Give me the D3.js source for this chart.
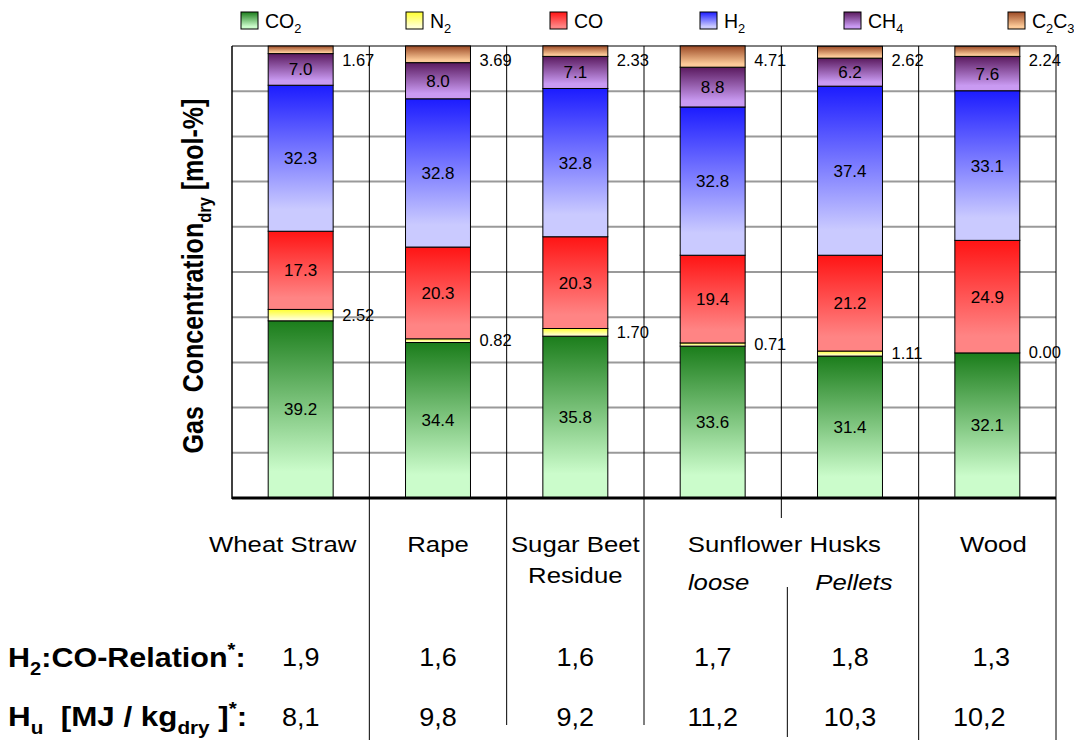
<!DOCTYPE html>
<html><head><meta charset="utf-8">
<script src="https://cdn.jsdelivr.net/npm/d3@7"></script>
<style>
body{margin:0;background:#fff}
svg{display:block}
text{font-family:"Liberation Sans",Arial,Helvetica,sans-serif;white-space:pre}
</style>
</head><body>
<svg id="chart" width="1074" height="740"></svg>
<script>
// ---------- data ----------
const categories = ["Wheat Straw","Rape","Sugar Beet Residue","Sunflower Husks loose","Sunflower Husks Pellets","Wood"];
const seriesKeys = ["CO2","N2","CO","H2","CH4","C2C3"];
const co2  = [39.2, 34.4, 35.8, 33.6, 31.4, 32.1];
const n2   = [2.52, 0.82, 1.70, 0.71, 1.11, 0.00];
const co   = [17.3, 20.3, 20.3, 19.4, 21.2, 24.9];
const h2   = [32.3, 32.8, 32.8, 32.8, 37.4, 33.1];
const ch4  = [7.0, 8.0, 7.1, 8.8, 6.2, 7.6];
const c2c3 = [1.67, 3.69, 2.33, 4.71, 2.62, 2.24];
const yTicks = [0,10,20,30,40,50,60,70,80,90,100];
const groupLines = [["Wheat Straw"],["Rape"],["Sugar Beet","Residue"],["Sunflower Husks"],["Wood"]];
const groupMembers = [[0],[1],[2],[3,4],[5]];
const subLabels = ["","","","loose","Pellets",""];
const h2coRelation = ["1,9","1,6","1,6","1,7","1,8","1,3"];
const heatingValue = ["8,1","9,8","9,2","11,2","10,3","10,2"];

// ---------- styles ----------
const colorStops = {
  CO2:  ["#1b7d1b","#cbfccb"],
  N2:   ["#ffff30","#ffffd0"],
  CO:   ["#ff1414","#ff8484"],
  H2:   ["#1c1cff","#cacaff"],
  CH4:  ["#5a1a5e","#c99af2"],
  C2C3: ["#9c4a26","#fcca98"]
};
const legendParts = {
  CO2:[["CO",""],["2","sub"]], N2:[["N",""],["2","sub"]], CO:[["CO",""]],
  H2:[["H",""],["2","sub"]], CH4:[["CH",""],["4","sub"]], C2C3:[["C",""],["2","sub"],["C",""],["3","sub"]]
};
const series = {CO2:co2, N2:n2, CO:co, H2:h2, CH4:ch4, C2C3:c2c3};

const svg = d3.select("#chart");
const M = {left:232, right:1056, top:46, bottom:498};

const rows = categories.map((c,i)=>{
  const r = {cat:c};
  seriesKeys.forEach(k=> r[k]=series[k][i]);
  return r;
});
const stacked = d3.stack().keys(seriesKeys)(rows);

const x = d3.scaleBand().domain(categories).range([M.left, M.right])
  .paddingInner(0.527).paddingOuter(0.2635);
const y = d3.scaleLinear().domain([0,100]).range([M.bottom, M.top]);
const bw = x.bandwidth();
const step = x.step();
const cx = c => x(c) + bw/2;
const boundary = i => x(categories[i]) + bw + (step-bw)/2;

// gradients
const defs = svg.append("defs");
seriesKeys.forEach(k=>{
  const g = defs.append("linearGradient").attr("id","g_"+k)
    .attr("x1",0).attr("y1",0).attr("x2",0).attr("y2",1);
  g.append("stop").attr("offset",0).attr("stop-color",colorStops[k][0]);
  g.append("stop").attr("offset",0.85).attr("stop-color",colorStops[k][1]);
  g.append("stop").attr("offset",1).attr("stop-color",colorStops[k][1]);
});

function rich(t, parts, fs){
  let shift = 0;
  parts.forEach(([s,k])=>{
    const sp = t.append("tspan").text(s);
    const target = k==="sub" ? fs*0.28 : k==="sup" ? -fs*0.38 : 0;
    if (target!==shift) sp.attr("dy", target-shift);
    shift = target;
    if (k) sp.attr("font-size", fs*0.66);
  });
  return t;
}
function label(g, px, py, opts){
  const fs = opts.size;
  const sx = opts.sx || 1, sy = opts.sy || 1;
  const t = g.append("text")
    .attr("transform", `translate(${px},${py})` + (opts.rot ? ` rotate(${opts.rot})` : "") + ` scale(${sx},${sy})`)
    .attr("font-size", fs)
    .attr("font-weight", opts.bold ? "bold" : "normal")
    .attr("font-style", opts.italic ? "italic" : "normal")
    .attr("text-anchor", opts.anchor || "start")
    .attr("fill", "#000");
  if (opts.parts) rich(t, opts.parts, fs); else t.text(opts.text);
  return t;
}

// grid
svg.append("g").selectAll("line").data(yTicks.filter(d=>d>0 && d<100)).join("line")
  .attr("x1",M.left).attr("x2",M.right).attr("y1",d=>y(d)).attr("y2",d=>y(d))
  .attr("stroke","#9a9a9a").attr("stroke-width",2);

// frame
svg.append("line").attr("x1",M.left).attr("x2",M.right).attr("y1",y(100)).attr("y2",y(100))
  .attr("stroke","#000").attr("stroke-width",1);
svg.append("line").attr("x1",M.left).attr("x2",M.left).attr("y1",y(100)).attr("y2",y(0)+1)
  .attr("stroke","#000").attr("stroke-width",1.5);

// table vertical lines
const vlines = [
  {i:0, y2:740}, {i:1, y2:725}, {i:2, y2:725}, {i:3, y2:518}, {i:4, y2:740}, {i:5, y2:740}
];
svg.append("g").selectAll("line").data(vlines).join("line")
  .attr("x1",d=>boundary(d.i)).attr("x2",d=>boundary(d.i))
  .attr("y1",y(100)).attr("y2",d=>d.y2)
  .attr("stroke","#000").attr("stroke-width",1);
svg.append("line").attr("x1",boundary(3)+6).attr("x2",boundary(3)+6)
  .attr("y1",587).attr("y2",737).attr("stroke","#000").attr("stroke-width",1);

// bars
const layers = svg.append("g").selectAll("g").data(stacked).join("g")
  .attr("fill",d=>`url(#g_${d.key})`);
layers.selectAll("rect").data(d=>d).join("rect")
  .attr("x",d=>x(d.data.cat)).attr("width",bw)
  .attr("y",d=>y(d[1])).attr("height",d=>Math.max(0,y(d[0])-y(d[1])))
  .attr("stroke","#000").attr("stroke-width",1);

// axis baseline
svg.append("line").attr("x1",M.left).attr("x2",M.right).attr("y1",y(0)).attr("y2",y(0))
  .attr("stroke","#000").attr("stroke-width",3);

// value labels
const labG = svg.append("g");
stacked.forEach(layer=>{
  layer.forEach(d=>{
    const k = layer.key, v = d.data[k];
    const mid = (y(d[0])+y(d[1]))/2;
    if (k==="N2" || k==="C2C3"){
      const yy = k==="C2C3" ? Math.max(mid, y(100)+14) : mid;
      label(labG, x(d.data.cat)+bw+9, yy+5.5, {size:16.5, text:v.toFixed(2)});
    } else {
      label(labG, cx(d.data.cat), mid+6, {size:17, text:v.toFixed(1), anchor:"middle"});
    }
  });
});

// legend
const legendX = [241,406,550,700,844,1008];
const lg = svg.append("g");
seriesKeys.forEach((k,i)=>{
  lg.append("rect").attr("x",legendX[i]).attr("y",12).attr("width",17).attr("height",17)
    .attr("fill",`url(#g_${k})`).attr("stroke","#000").attr("stroke-width",1);
  label(lg, legendX[i]+24, 27.5, {size:19.5, parts:legendParts[k]});
});

// y axis title
label(svg, 203, 276, {size:25, bold:true, rot:-90, sy:1.15, anchor:"middle",
  parts:[["Gas  Concentration",""],["dry","sub"],[" [mol-%]",""]]});

// category labels
const tg = svg.append("g");
groupLines.forEach((lines,gi)=>{
  const mem = groupMembers[gi].map(i=>categories[i]);
  let cxx = d3.mean(mem, c=>cx(c));
  if (gi===0) cxx -= 18;
  if (gi===3) cxx += 3;
  if (gi===4) cxx += 6;
  lines.forEach((ln,li)=>{
    label(tg, cxx, 552 + li*31, {size:23, sx:1.12, anchor:"middle", text:ln});
  });
});
subLabels.forEach((s,i)=>{
  if (!s) return;
  label(tg, cx(categories[i]) + (i===3 ? 6 : 4), 590, {size:23, sx:1.12, italic:true, anchor:"middle", text:s});
});

// table rows
label(tg, 8, 667, {size:28, bold:true, sx:1.09,
  parts:[["H",""],["2","sub"],[":CO-Relation",""],["*","sup"],[":",""]]});
label(tg, 8, 726, {size:28, bold:true, sx:1.12,
  parts:[["H",""],["u","sub"],["  [MJ / kg",""],["dry","sub"],[" ]",""],["*","sup"],[":",""]]});
h2coRelation.forEach((v,i)=>{
  label(tg, cx(categories[i]) + (i===5?4:0), 666, {size:25, sx:1.08, anchor:"middle", text:v});
});
heatingValue.forEach((v,i)=>{
  label(tg, cx(categories[i]) + (i===5?-8:0), 726, {size:25, sx:1.08, anchor:"middle", text:v});
});
</script>
</body></html>
